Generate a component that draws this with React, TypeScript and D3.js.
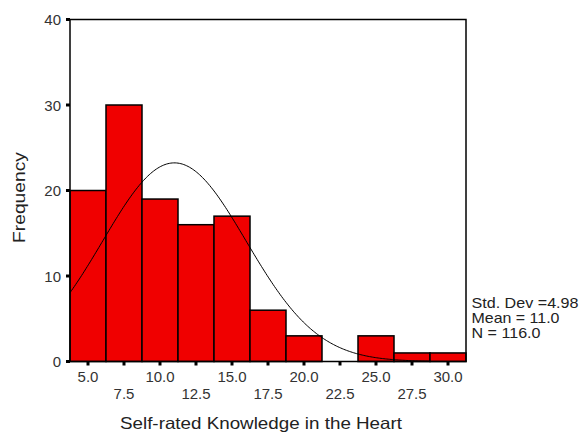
import React from "react";
import * as d3 from "d3";

const binCenters = [5.0, 7.5, 10.0, 12.5, 15.0, 17.5, 20.0, 22.5, 25.0, 27.5, 30.0];
const frequencies = [20, 30, 19, 16, 17, 6, 3, 0, 3, 1, 1];
const xTickLabels = ["5.0", "7.5", "10.0", "12.5", "15.0", "17.5", "20.0", "22.5", "25.0", "27.5", "30.0"];
const yTicks = [0, 10, 20, 30, 40];
const statsLines = ["Std. Dev =4.98", "Mean = 11.0", "N = 116.0"];
const statsWidths = [107, 88, 69];
const stdDev = 4.98;
const mean = 11.0;
const nCount = 116;
const binWidth = 2.5;

export default function App() {
  const W = 579, H = 434;
  const left = 70, right = 466, top = 19.5, bottom = 361.5;
  const x = d3.scaleLinear().domain([3.75, 31.25]).range([left, right]);
  const y = d3.scaleLinear().domain([0, 40]).range([bottom, top]);

  const curveXs = d3.range(3.75, 28.76, 0.1);
  const pdf = (v: number) =>
    (nCount * binWidth) / (stdDev * Math.sqrt(2 * Math.PI)) *
    Math.exp(-((v - mean) ** 2) / (2 * stdDev * stdDev));
  const line = d3.line<number>().x((d) => x(d)).y((d) => y(pdf(d)));

  const font = "Arial, 'Liberation Sans', sans-serif";

  return (
    <svg width={W} height={H} style={{ position: "absolute", left: 0, top: 0 }} fontFamily={font}>
      <rect x={0} y={0} width={W} height={H} fill="#fff" />
      {binCenters.map((c, i) =>
        frequencies[i] > 0 ? (
          <rect
            key={i}
            x={x(c - binWidth / 2)}
            y={y(frequencies[i])}
            width={x(c + binWidth / 2) - x(c - binWidth / 2)}
            height={y(0) - y(frequencies[i])}
            fill="#f00000"
            stroke="#000"
            strokeWidth={1.5}
          />
        ) : null
      )}
      <path d={line(curveXs) || ""} fill="none" stroke="#000" strokeWidth={1} />
      <rect x={left} y={top} width={right - left} height={bottom - top} fill="none" stroke="#000" strokeWidth={1.5} />
      {yTicks.map((t) => (
        <g key={t}>
          <line x1={left - 4} x2={left} y1={y(t)} y2={y(t)} stroke="#000" strokeWidth={3} />
          <text x={61} y={y(t) + 5.5} textAnchor="end" fontSize={15} fill="#333">{t}</text>
        </g>
      ))}
      {binCenters.map((c, i) => (
        <g key={c}>
          <line x1={x(c)} x2={x(c)} y1={bottom} y2={bottom + 4} stroke="#000" strokeWidth={3} />
          <text x={x(c)} y={i % 2 === 0 ? 382 : 399} textAnchor="middle" fontSize={15} fill="#333">
            {xTickLabels[i]}
          </text>
        </g>
      ))}
      <text x={120} y={428.5} fontSize={16.5} textLength={282} lengthAdjust="spacingAndGlyphs" fill="#222">
        Self-rated Knowledge in the Heart
      </text>
      <text
        transform={`translate(24.5, 243) rotate(-90)`}
        fontSize={16.5}
        textLength={91}
        lengthAdjust="spacingAndGlyphs"
        fill="#222"
      >
        Frequency
      </text>
      {statsLines.map((s, i) => (
        <text
          key={s}
          x={471.5}
          y={308 + i * 15}
          fontSize={15}
          textLength={statsWidths[i]}
          lengthAdjust="spacingAndGlyphs"
          fill="#222"
        >
          {s}
        </text>
      ))}
    </svg>
  );
}
